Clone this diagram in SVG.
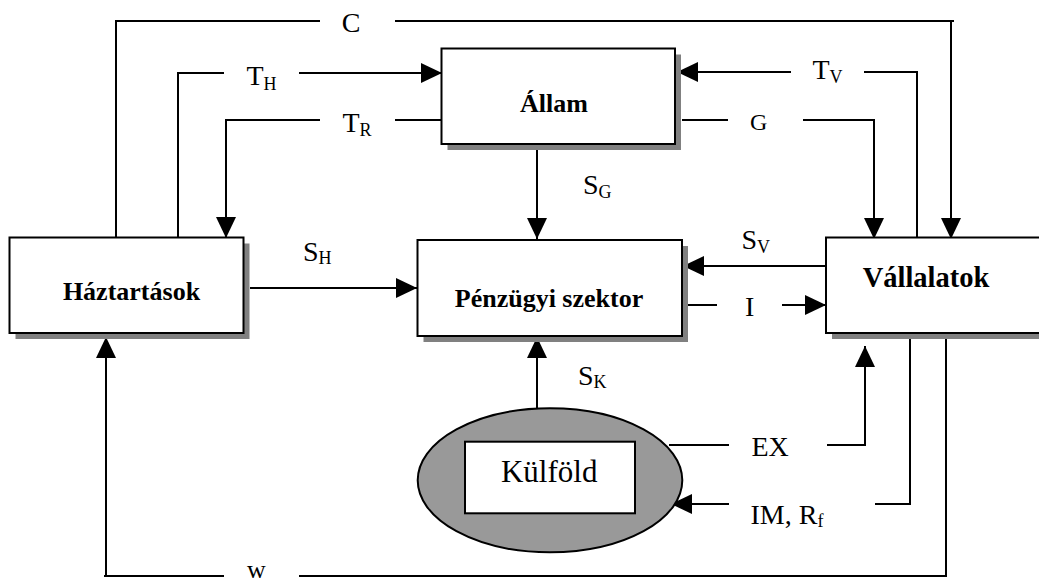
<svg xmlns="http://www.w3.org/2000/svg" width="1039" height="584" viewBox="0 0 1039 584">
  <style>
    .box { fill: #ffffff; stroke: #000000; stroke-width: 2; }
    .shadow { fill: #808080; stroke: none; }
    .flow { fill: none; stroke: #000000; stroke-width: 2; }
    .title { font-family: "Liberation Serif", "Times New Roman", serif; font-weight: bold; fill: #000000; text-anchor: middle; }
    .lbl { font-family: "Liberation Serif", "Times New Roman", serif; font-size: 28px; fill: #000000; }
    .sub { font-size: 18px; }
  </style>
  <defs>
    <marker id="arrow" markerUnits="userSpaceOnUse" markerWidth="21" markerHeight="20" refX="21" refY="10" orient="auto">
      <path d="M0,0 L21,10 L0,20 Z" fill="#000000"/>
    </marker>
  </defs>
  <rect width="1039" height="584" fill="#ffffff"/>

  <!-- flows between sectors -->
  <g id="connectors">
    <!-- C: consumption -->
    <path class="flow" d="M116,240 V21 H320"/>
    <path class="flow" d="M395,21 H954"/>
    <path class="flow" d="M951,21 V239" marker-end="url(#arrow)"/>
    <!-- T_H -->
    <path class="flow" d="M178,240 V73 H224"/>
    <path class="flow" d="M299,73 H442" marker-end="url(#arrow)"/>
    <!-- T_R -->
    <path class="flow" d="M442,120 H395"/>
    <path class="flow" d="M320,120 H226 V238" marker-end="url(#arrow)"/>
    <!-- T_V -->
    <path class="flow" d="M917,239 V72 H864"/>
    <path class="flow" d="M791,72 H677" marker-end="url(#arrow)"/>
    <!-- G -->
    <path class="flow" d="M682,120 H728"/>
    <path class="flow" d="M803,120 H874 V239" marker-end="url(#arrow)"/>
    <!-- S_G -->
    <path class="flow" d="M537,144 V239" marker-end="url(#arrow)"/>
    <!-- S_H -->
    <path class="flow" d="M250,288 H417" marker-end="url(#arrow)"/>
    <!-- S_V -->
    <path class="flow" d="M826,266 H683" marker-end="url(#arrow)"/>
    <!-- I -->
    <path class="flow" d="M688,305 H717"/>
    <path class="flow" d="M782,305 H826" marker-end="url(#arrow)"/>
    <!-- S_K -->
    <path class="flow" d="M537,408 V337" marker-end="url(#arrow)"/>
    <!-- EX -->
    <path class="flow" d="M669,445 H729"/>
    <path class="flow" d="M827,445 H865 V346" marker-end="url(#arrow)"/>
    <!-- IM, R_f -->
    <path class="flow" d="M910,333 V504 H875"/>
    <path class="flow" d="M729,504 H671" marker-end="url(#arrow)"/>
    <!-- w: wages -->
    <path class="flow" d="M946,339 V576 H299"/>
    <path class="flow" d="M224,576 H104"/>
    <path class="flow" d="M106,576 V337" marker-end="url(#arrow)"/>
  </g>

  <!-- flow labels -->
  <g id="labels">
    <text class="lbl" x="351" y="31.5" text-anchor="middle">C</text>
    <text class="lbl" x="246.5" y="85">T<tspan class="sub" dy="4.5">H</tspan></text>
    <text class="lbl" x="342.5" y="131.5">T<tspan class="sub" dy="4.5">R</tspan></text>
    <text class="lbl" x="812.5" y="79">T<tspan class="sub" dy="4">V</tspan></text>
    <text class="lbl" x="750" y="129.5" style="font-size:24px">G</text>
    <text class="lbl" x="583" y="194">S<tspan class="sub" dy="4">G</tspan></text>
    <text class="lbl" x="303" y="260.5">S<tspan class="sub" dy="3">H</tspan></text>
    <text class="lbl" x="741.5" y="249">S<tspan class="sub" dy="3.5">V</tspan></text>
    <text class="lbl" x="745" y="316">I</text>
    <text class="lbl" x="578" y="385">S<tspan class="sub" dy="3">K</tspan></text>
    <text class="lbl" x="751.5" y="456">EX</text>
    <text class="lbl" x="750.5" y="523.5">IM, R<tspan class="sub" dy="3">f</tspan></text>
    <text class="lbl" x="247" y="578" style="font-size:26px">w</text>
  </g>

  <g id="haztartasok">
    <rect class="shadow" x="15.5" y="243.5" width="234" height="95.5"/>
    <rect class="box" x="9.5" y="237.5" width="234" height="95.5"/>
    <text class="title" x="131.5" y="300" font-size="26">Háztartások</text>
  </g>

  <g id="allam">
    <rect class="shadow" x="447.5" y="54.5" width="233.5" height="95.5"/>
    <rect class="box" x="441.5" y="48.5" width="233.5" height="95.5"/>
    <text class="title" x="554" y="111.5" font-size="26">Állam</text>
  </g>

  <g id="penzugyi-szektor">
    <rect class="shadow" x="423.5" y="246" width="264.5" height="96"/>
    <rect class="box" x="417.5" y="240" width="264.5" height="96"/>
    <text class="title" x="549" y="306.5" font-size="26">Pénzügyi szektor</text>
  </g>

  <g id="vallalatok">
    <rect class="shadow" x="832" y="243.5" width="240" height="95.5"/>
    <rect class="box" x="826" y="237.5" width="240" height="95.5"/>
    <text class="title" x="926" y="286.5" font-size="28.5">Vállalatok</text>
  </g>

  <g id="kulfold">
    <ellipse cx="550" cy="480.3" rx="132.3" ry="72" fill="#999999" stroke="#000000" stroke-width="2"/>
    <rect class="box" x="465" y="441.7" width="170" height="71.6"/>
    <text x="549.2" y="481.7" font-family="Liberation Serif, Times New Roman, serif" font-size="31" text-anchor="middle" fill="#000000">Külföld</text>
  </g>
</svg>
